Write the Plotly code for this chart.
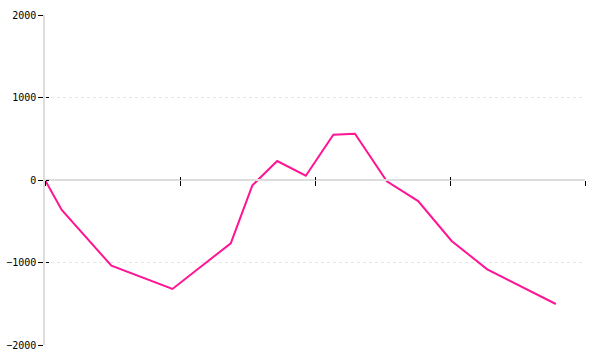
import plotly.graph_objects as go

x_vals = [0, 3.1, 12.3, 23.6, 34.4, 38.4, 43.0, 48.3, 53.4, 57.4, 63.3, 69.1, 75.3, 81.9, 94.6]
y_vals = [0, -364, -1039, -1321, -767, -65, 230, 52, 549, 561, -16, -255, -739, -1083, -1503]
x_ticks = [0, 25, 50, 75, 100]
y_ticks = [-2000, -1000, 0, 1000, 2000]

line_color = "#ff1493"
font = dict(family="DejaVu Sans Mono", size=10, color="#000")

fig = go.Figure()
fig.add_trace(go.Scatter(x=x_vals, y=y_vals, mode="lines",
                         line=dict(color=line_color, width=2),
                         showlegend=False, hoverinfo="skip"))
# helper trace on overlay axes so inner tick halves are drawn
fig.add_trace(go.Scatter(x=x_vals, y=y_vals, mode="lines", xaxis="x2", yaxis="y2",
                         line=dict(color="rgba(0,0,0,0)", width=0),
                         showlegend=False, hoverinfo="skip"))

fig.update_layout(
    template="none",
    width=600, height=360,
    margin=dict(l=45, r=15, t=15, b=15, autoexpand=False),
    paper_bgcolor="white", plot_bgcolor="white",
    font=font,
    xaxis=dict(range=[0, 100], tickvals=x_ticks, showticklabels=False,
               anchor="free", position=0.5, automargin=False,
               showline=True, linecolor="#dddddd", linewidth=1.5,
               ticks="outside", ticklen=5, tickwidth=1, tickcolor="#000",
               showgrid=False, zeroline=False),
    xaxis2=dict(range=[0, 100], tickvals=x_ticks, showticklabels=False,
                overlaying="x", anchor="free", position=0.5, automargin=False,
                showline=False, ticks="inside", ticklen=3, tickwidth=1, tickcolor="#000",
                showgrid=False, zeroline=False),
    yaxis=dict(range=[-2000, 2000], tickvals=y_ticks, automargin=False,
               showline=True, linecolor="#dddddd", linewidth=1.5,
               ticks="outside", ticklen=5, tickwidth=1, tickcolor="#000",
               showgrid=True, gridcolor="#e6e6e6", griddash="dot", gridwidth=1,
               zeroline=False, tickfont=font),
    yaxis2=dict(range=[-2000, 2000], tickvals=y_ticks, showticklabels=False,
                overlaying="y", anchor="free", position=0, side="left", automargin=False,
                showline=False, ticks="inside", ticklen=3, tickwidth=1, tickcolor="#000",
                showgrid=False, zeroline=False),
)

fig.write_html("out.html")
